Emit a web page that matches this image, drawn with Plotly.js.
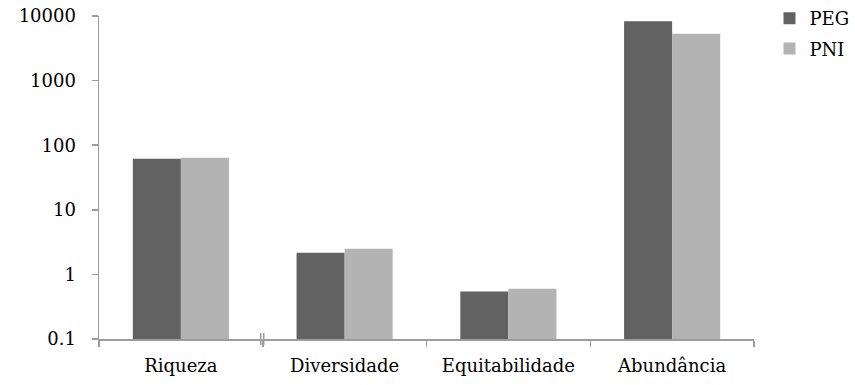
<!DOCTYPE html>
<html>
<head>
<meta charset="utf-8">
<script src="https://cdn.plot.ly/plotly-3.0.1.min.js"></script>
<style>html,body{margin:0;padding:0;background:#fff;}#chart{width:855px;height:385px;}</style>
</head>
<body>
<div id="chart"></div>
<script>
const categories = ["Riqueza", "Diversidade", "Equitabilidade", "Abundância"];
const seriesNames = ["PEG", "PNI"];
const pegValues = [61.5, 2.16, 0.543, 8300];
const pniValues = [64, 2.49, 0.598, 5300];
const yTickVals = [0.1, 1, 10, 100, 1000, 10000];
const yTickText = ["0.1", "1", "10", "100", "1000", "10000"];

const font = {family: "DejaVu Serif", size: 18, color: "#000"};
const axisColor = "#9c9c9c";

const traces = [
  {type: "bar", name: seriesNames[0], x: categories, y: pegValues,
   marker: {color: "#626262", line: {width: 0}}, legendgroup: "a"},
  {type: "bar", name: seriesNames[1], x: categories, y: pniValues,
   marker: {color: "#b3b3b3", line: {width: 0}}, legendgroup: "b"}
];

const layout = {
  width: 855, height: 385,
  margin: {l: 99, r: 101, t: 16, b: 46, pad: 0},
  paper_bgcolor: "#fff", plot_bgcolor: "#fff",
  font: font,
  barmode: "group", bargap: 0.413, bargroupgap: 0,
  showlegend: true,
  legend: {xref: "container", yref: "container", x: 0.9, xanchor: "left", y: 1, yanchor: "top",
           font: font, tracegroupgap: 4, itemwidth: 30, bgcolor: "rgba(0,0,0,0)"},
  xaxis: {type: "category", showline: true, linecolor: axisColor, linewidth: 1.5,
          ticks: "outside", tickson: "boundaries", ticklen: 6, tickcolor: axisColor, tickwidth: 1.5,
          ticklabelstandoff: 10,
          showgrid: false, zeroline: false, tickfont: font, automargin: false},
  yaxis: {type: "log", range: [-1, 4], showline: true, linecolor: axisColor, linewidth: 1.5,
          ticks: "outside", ticklen: 6, tickcolor: axisColor, tickwidth: 1.5,
          ticklabelstandoff: 12,
          tickvals: yTickVals, ticktext: yTickText, showgrid: false, zeroline: false,
          tickfont: font, automargin: false},
  shapes: [
    {type: "line", xref: "x", yref: "paper", xsizemode: "pixel", xanchor: 0.5,
     x0: -2, x1: -2, ysizemode: "pixel", yanchor: 0, y0: -6, y1: 6,
     line: {color: axisColor, width: 1.5}},
    {type: "line", xref: "x", yref: "paper", xsizemode: "pixel", xanchor: 0.5,
     x0: 1, x1: 1, ysizemode: "pixel", yanchor: 0, y0: -6, y1: 6,
     line: {color: axisColor, width: 1.5}}
  ]
};

Plotly.newPlot("chart", traces, layout, {displayModeBar: false, staticPlot: true});
</script>
</body>
</html>
